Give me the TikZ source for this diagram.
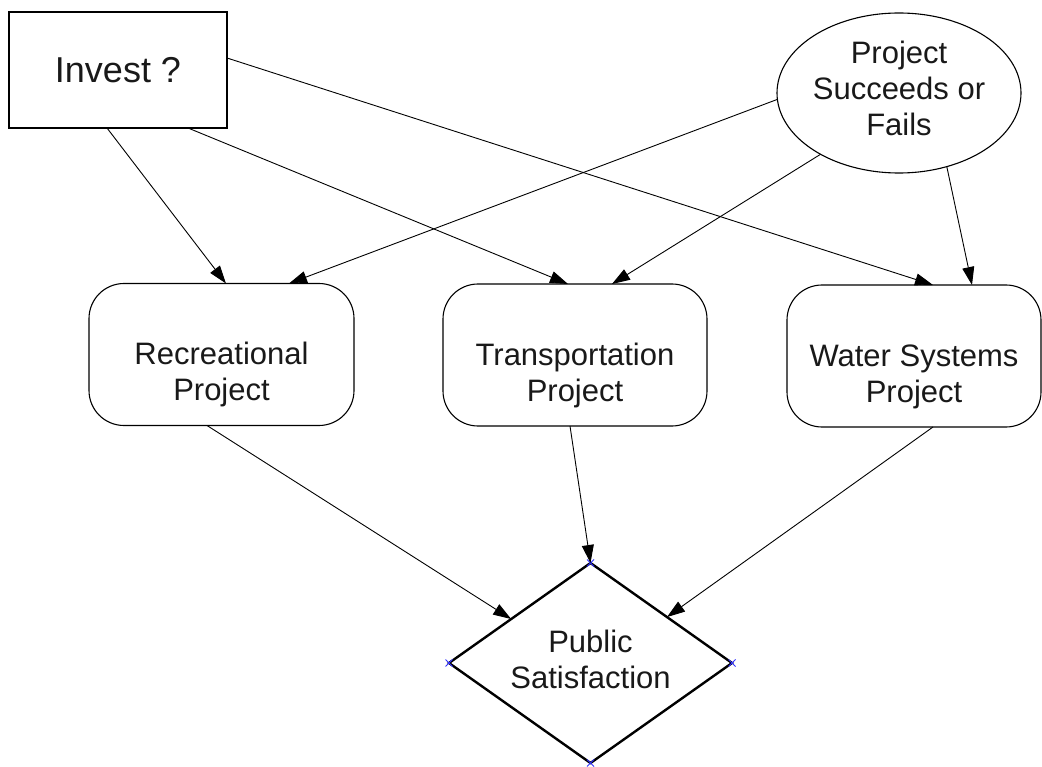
\documentclass[tikz,border=0pt]{standalone}
\usepackage{fontspec}
\setmainfont{Liberation Sans}
\usetikzlibrary{shapes.geometric,arrows.meta}
% centred multi-line text, optionally moved up/down inside its node
\newcommand\nodelines[2][0pt]{\raisebox{#1}[\height][\depth]{\begin{tabular}{@{}c@{}}#2\end{tabular}}}
\begin{document}
\begin{tikzpicture}[x=1pt,y=-1pt,
  every node/.style={outer sep=0pt, inner sep=0pt, text=black!90},
  lbl/.style={font=\fontsize{31}{36}\selectfont},
  decision/.style={draw, line width=1.5pt, minimum width=218pt, minimum height=116pt,
    font=\fontsize{36}{40}\selectfont},
  chance/.style={draw, ellipse, line width=1.1pt, minimum width=244pt, minimum height=160pt, lbl},
  project/.style={draw, rounded corners=35pt, line width=1.1pt, minimum height=142pt, lbl},
  value/.style={draw, diamond, aspect=1.415, line width=2.4pt,
    minimum width=283pt, minimum height=200pt, lbl},
  link/.style={-{Triangle[length=18pt,width=12pt]}, line width=0.9pt},
  corner/.style={draw=blue!80, line width=1pt}
]
\useasboundingbox (0,0) rectangle (1042,767);

% decision, chance and value nodes
\node[decision] (inv) at (118,70) {Invest ?};
\node[chance] (psf) at (899,93) {\nodelines[1pt]{Project\\Succeeds or\\Fails}};
\node[project, minimum width=265pt] (rec) at (221.5,354.5) {\nodelines[-21pt]{Recreational\\Project}};
\node[project, minimum width=264pt] (tra) at (575,355) {\nodelines[-21pt]{Transportation\\Project}};
\node[project, minimum width=254pt] (wat) at (914,356) {\nodelines[-21pt]{Water Systems\\Project}};
\node[value] (ps) at (590.5,663) {\nodelines{Public\\Satisfaction}};

% small connection marks on the diamond corners
\foreach \a in {north,south,east,west}{
  \draw[corner] ([shift={(-3.5pt,-3.5pt)}]ps.\a) -- ([shift={(3.5pt,3.5pt)}]ps.\a);
  \draw[corner] ([shift={(-3.5pt,3.5pt)}]ps.\a) -- ([shift={(3.5pt,-3.5pt)}]ps.\a);
}

% influences from the decision
\draw[link] ([xshift=98pt]inv.south west) -- ([xshift=137pt]rec.north west);
\draw[link] ([xshift=179pt]inv.south west) -- ([xshift=125pt]tra.north west);
\draw[link] ([yshift=12pt]inv.east) -- ([xshift=146pt]wat.north west);

% influences from the chance node
\draw[link] (psf.183) -- ([xshift=200pt]rec.north west);
\draw[link] (psf.218) -- ([xshift=169pt]tra.north west);
\draw[link] (psf.303) -- ([xshift=185pt]wat.north west);

% projects into the value node
\draw[link] ([xshift=118pt]rec.south west) -- (ps.151);
\draw[link] ([xshift=127pt]tra.south west) -- (ps.north);
\draw[link] ([xshift=146pt]wat.south west) -- (ps.31);
\end{tikzpicture}
\end{document}
